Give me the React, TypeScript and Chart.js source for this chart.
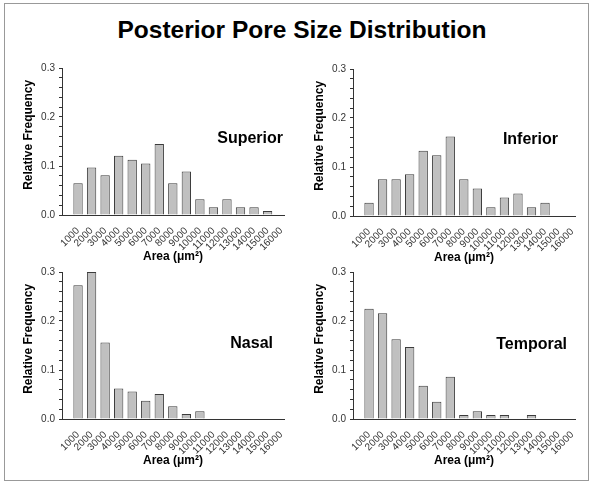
import React, { useEffect, useRef } from 'react';
import { Chart, registerables } from 'chart.js';

Chart.register(...registerables);

// ---- data ----
const areaBins = [1000, 2000, 3000, 4000, 5000, 6000, 7000, 8000, 9000, 10000, 11000, 12000, 13000, 14000, 15000, 16000];
const superiorFreq = [0.065, 0.097, 0.081, 0.121, 0.113, 0.105, 0.145, 0.065, 0.089, 0.032, 0.016, 0.032, 0.016, 0.016, 0.008, 0];
const inferiorFreq = [0.027, 0.075, 0.075, 0.085, 0.133, 0.124, 0.162, 0.075, 0.056, 0.018, 0.038, 0.046, 0.018, 0.027, 0, 0];
const nasalFreq = [0.273, 0.300, 0.156, 0.062, 0.056, 0.037, 0.051, 0.026, 0.010, 0.016, 0, 0, 0, 0, 0, 0];
const temporalFreq = [0.225, 0.216, 0.163, 0.147, 0.068, 0.035, 0.086, 0.008, 0.016, 0.008, 0.008, 0, 0.008, 0, 0, 0];
const regionNames = ['Superior', 'Inferior', 'Nasal', 'Temporal'];
const mainTitle = 'Posterior Pore Size Distribution';
const xTitle = 'Area (μm²)';
const yTitle = 'Relative Frequency';

const FONT = '"Liberation Sans", Arial, Helvetica, sans-serif';

type PanelSpec = {
  name: string;
  values: number[];
  left: number;
  top: number;
  labelDx: number;
  labelDy: number;
};

const panels: PanelSpec[] = [
  { name: regionNames[0], values: superiorFreq, left: 0, top: 50, labelDx: -1, labelDy: 70.5 },
  { name: regionNames[1], values: inferiorFreq, left: 291, top: 51, labelDx: -17, labelDy: 71 },
  { name: regionNames[2], values: nasalFreq, left: 0, top: 254, labelDx: -11, labelDy: 72 },
  { name: regionNames[3], values: temporalFreq, left: 291, top: 254, labelDx: -8, labelDy: 73 },
];

const CW = 296;
const CH = 220;

function Panel({ spec }: { spec: PanelSpec }) {
  const ref = useRef<HTMLCanvasElement | null>(null);
  useEffect(() => {
    const labelPlugin = {
      id: 'regionLabel',
      afterDatasetsDraw(chart: any) {
        const { ctx, chartArea } = chart;
        ctx.save();
        ctx.font = `bold 16px ${FONT}`;
        ctx.fillStyle = '#000';
        ctx.textAlign = 'right';
        ctx.textBaseline = 'middle';
        ctx.fillText(spec.name, chartArea.right + spec.labelDx, chartArea.top + spec.labelDy);
        ctx.restore();
      },
    };
    const chart = new Chart(ref.current as HTMLCanvasElement, {
      type: 'bar',
      data: {
        labels: areaBins,
        datasets: [
          {
            data: spec.values,
            backgroundColor: '#c0c0c0',
            borderColor: '#3c3c3c',
            borderWidth: 1,
            barPercentage: 0.69,
            categoryPercentage: 1,
          },
        ],
      },
      options: {
        animation: false,
        responsive: false,
        maintainAspectRatio: false,
        layout: { padding: { top: 18, right: 12, left: 0, bottom: 0 } },
        plugins: { legend: { display: false }, tooltip: { enabled: false }, title: { display: false } },
        scales: {
          x: {
            type: 'linear',
            min: 328,
            max: 15700,
            afterBuildTicks: (s: any) => {
              s.ticks = areaBins.map((v) => ({ value: v }));
            },
            afterFit: (s: any) => {
              s.height = 55;
            },
            ticks: {
              autoSkip: false,
              minRotation: 45,
              maxRotation: 45,
              padding: 2,
              color: '#333',
              font: { size: 10, family: FONT },
              callback: (v: any) => String(v),
            },
            grid: { display: false },
            border: { display: true, color: '#333', width: 1 },
            title: {
              display: true,
              text: xTitle,
              color: '#000',
              font: { size: 12, weight: 'bold', family: FONT },
              padding: { top: 0, bottom: 6 },
            },
          },
          y: {
            min: 0,
            max: 0.3,
            afterFit: (s: any) => {
              s.width = 62;
            },
            ticks: {
              stepSize: 0.02,
              autoSkip: false,
              padding: 4,
              color: '#333',
              font: { size: 10, family: FONT },
              callback: (v: any) => {
                const n = Number(v);
                const r = Math.round(n * 10);
                return Math.abs(n * 10 - r) < 1e-6 ? (r / 10).toFixed(1) : '';
              },
            },
            grid: { drawOnChartArea: false, drawTicks: true, tickLength: 3, color: '#333' },
            border: { display: true, color: '#333', width: 1 },
            title: {
              display: true,
              text: '    ' + yTitle,
              color: '#000',
              font: { size: 12, weight: 'bold', family: FONT },
              padding: { top: 21, bottom: 0 },
            },
          },
        },
      } as any,
      plugins: [labelPlugin],
    });
    return () => chart.destroy();
  }, []);
  return (
    <canvas
      ref={ref}
      width={CW}
      height={CH}
      style={{ position: 'absolute', left: spec.left, top: spec.top, width: CW, height: CH }}
    />
  );
}

export default function App() {
  return (
    <div style={{ position: 'fixed', left: 0, top: 0, width: 592, height: 483, background: '#fff', overflow: 'hidden' }}>
      <div
        style={{
          position: 'absolute',
          left: 4,
          top: 3,
          width: 585,
          height: 478,
          boxSizing: 'border-box',
          border: '1px solid #999',
        }}
      />
      <div
        style={{
          position: 'absolute',
          left: 302,
          top: 16,
          transform: 'translateX(-50%)',
          whiteSpace: 'nowrap',
          font: `bold 24.5px ${FONT}`,
          lineHeight: '28px',
          color: '#000',
        }}
      >
        {mainTitle}
      </div>
      {panels.map((p) => (
        <Panel key={p.name} spec={p} />
      ))}
    </div>
  );
}
